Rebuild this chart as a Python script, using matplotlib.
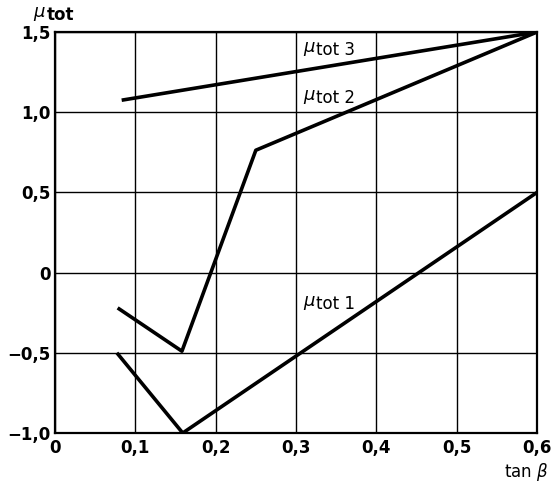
import matplotlib
matplotlib.use("Agg")
import matplotlib.pyplot as plt

x_ticks = [0, 0.1, 0.2, 0.3, 0.4, 0.5, 0.6]
x_tick_labels = ["0", "0,1", "0,2", "0,3", "0,4", "0,5", "0,6"]
y_ticks = [-1.0, -0.5, 0, 0.5, 1.0, 1.5]
y_tick_labels = ["−1,0", "−0,5", "0", "0,5", "1,0", "1,5"]

mu1_x = [0.077, 0.159, 0.6]
mu1_y = [-0.5, -1.0, 0.5]
mu2_x = [0.078, 0.158, 0.25, 0.6]
mu2_y = [-0.22, -0.49, 0.763, 1.5]
mu3_x = [0.083, 0.6]
mu3_y = [1.075, 1.5]

series_names = ["tot 1", "tot 2", "tot 3"]

plt.rcParams['font.family'] = ['DejaVu Sans']

fig = plt.figure(figsize=(5.51, 4.83), dpi=100)
ax = fig.add_axes([0.0998, 0.1035, 0.8748, 0.8302])
ax.set_xlim(0, 0.6)
ax.set_ylim(-1.0, 1.5)

ax.plot(mu1_x, mu1_y, color='black', lw=2.6, solid_capstyle='butt')
ax.plot(mu2_x, mu2_y, color='black', lw=2.6, solid_capstyle='butt')
ax.plot(mu3_x, mu3_y, color='black', lw=2.6, solid_capstyle='butt')

ax.set_xticks(x_ticks)
ax.set_xticklabels(x_tick_labels, fontsize=12, fontweight='bold')
ax.set_yticks(y_ticks)
ax.set_yticklabels(y_tick_labels, fontsize=12, fontweight='bold')
ax.tick_params(axis='x', length=0, pad=4)
ax.tick_params(axis='y', length=0, pad=3)
ax.grid(True, color='black', lw=1.0)
for s in ax.spines.values():
    s.set_linewidth(1.6)


def mu_label(x, y, name, transform, fs=12, weight='medium'):
    ax.annotate(r"$\mu$", xy=(x, y), xycoords=transform, xytext=(0, 2.5),
                textcoords='offset points', fontsize=fs + 1, ha='left',
                va='baseline')
    ax.annotate(name, xy=(x, y), xycoords=transform, xytext=(9.5, 0),
                textcoords='offset points', fontsize=fs, ha='left',
                va='baseline', fontweight=weight)


mu_label(0.309, 1.355, series_names[2], 'data')
mu_label(0.309, 1.056, series_names[1], 'data')
mu_label(0.309, -0.227, series_names[0], 'data')
mu_label(0.060, 0.9586, "tot", fig.transFigure, weight='bold')

fig.text(0.995, 0.0124, r"tan $\mathit{\beta}$", fontsize=12, ha='right',
         va='baseline', fontweight='medium')

fig.savefig("out.png", dpi=100, facecolor='white')
